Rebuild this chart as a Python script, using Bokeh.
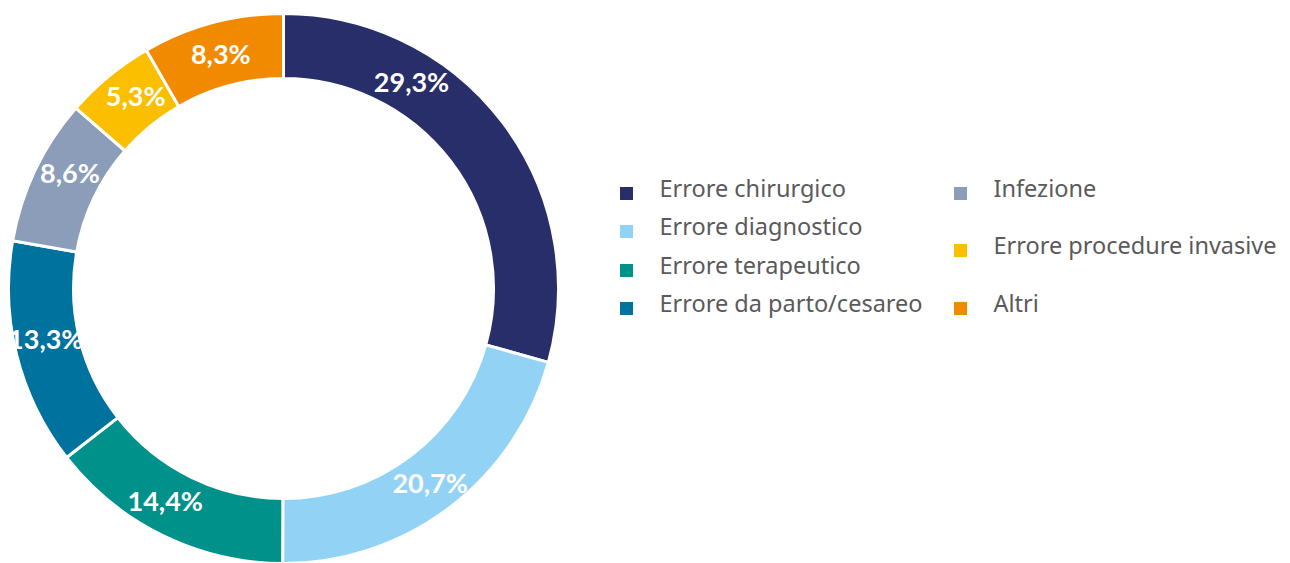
import math
from bokeh.plotting import figure
from bokeh.models import Range1d, ColumnDataSource
from bokeh.core.properties import value
from bokeh.embed import file_html
from bokeh.resources import INLINE

categories = ["Errore chirurgico", "Errore diagnostico", "Errore terapeutico",
              "Errore da parto/cesareo", "Infezione", "Errore procedure invasive", "Altri"]
values = [29.3, 20.7, 14.4, 13.3, 8.6, 5.3, 8.3]
labels = ["29,3%", "20,7%", "14,4%", "13,3%", "8,6%", "5,3%", "8,3%"]
colors = ["#272e6a", "#92d3f5", "#00928a", "#00729e", "#8b9db8", "#fbbf00", "#f28a00"]

# layout (data units = screen px, y measured from bottom)
W, H = 1282, 563
cx, cy = 283, H - 288
r_out, r_in = 275, 210
r_lab = 243
label_shift = [21, 0, -3, -2, -3, -2, 0]  # degrees, label placement tweak

total = sum(values)
starts, ends, lx, ly = [], [], [], []
cum = 0.0
for v, sh in zip(values, label_shift):
    a0 = 90 - (cum + v) / total * 360
    a1 = 90 - cum / total * 360
    starts.append(math.radians(a0))
    ends.append(math.radians(a1))
    mid = math.radians((a0 + a1) / 2 + sh)
    lx.append(cx + r_lab * math.cos(mid))
    ly.append(cy + r_lab * math.sin(mid))
    cum += v

src = ColumnDataSource(dict(start=starts, end=ends, color=colors, x=lx, y=ly, label=labels))

p = figure(width=W, height=H, x_range=Range1d(0, W), y_range=Range1d(0, H),
           output_backend="svg", toolbar_location=None, min_border=0)
p.axis.visible = False
p.grid.visible = False
p.outline_line_color = None
p.background_fill_color = "white"

p.annular_wedge(x=cx, y=cy, inner_radius=r_in, outer_radius=r_out,
                start_angle="start", end_angle="end", fill_color="color",
                line_color="white", line_width=3, source=src)

p.text(x="x", y="y", text="label", source=src, text_color="white",
       text_font=value("Lato"), text_font_style="bold", text_font_size="27px",
       text_align="center", text_baseline="middle")

# legend (two columns)
leg_x = [626, 626, 626, 626, 960, 960, 960]
leg_sy = [193, 231, 270, 308, 193, 250, 308]
leg_y = [H - s for s in leg_sy]
lsrc = ColumnDataSource(dict(x=leg_x, y=leg_y, tx=[x + 33 for x in leg_x],
                             ty=[y + 6 for y in leg_y], color=colors, name=categories))
p.rect(x="x", y="y", width=13, height=13, fill_color="color", line_color=None, source=lsrc)
p.text(x="tx", y="ty", text="name", source=lsrc, text_color="#5a5a5a",
       text_font=value("Noto Sans"), text_font_size="23.5px",
       text_align="left", text_baseline="middle")

open("out.html", "w").write(file_html(p, INLINE))
